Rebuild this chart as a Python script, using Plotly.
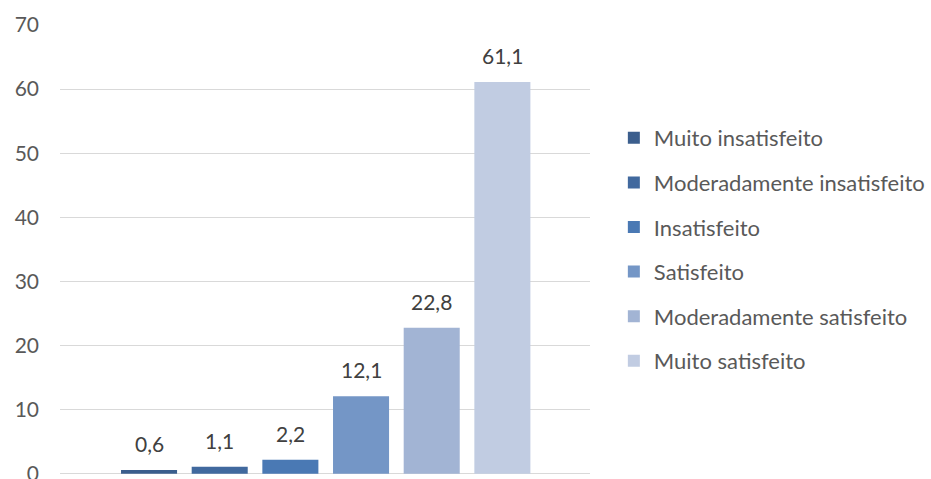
import plotly.graph_objects as go

categories = ["Muito insatisfeito", "Moderadamente insatisfeito", "Insatisfeito",
              "Satisfeito", "Moderadamente satisfeito", "Muito satisfeito"]
values = [0.6, 1.1, 2.2, 12.1, 22.8, 61.1]
colors = ["#3B5E8D", "#41699E", "#4A79B4", "#7496C6", "#A2B4D4", "#C1CCE2"]
y_ticks = [0, 10, 20, 30, 40, 50, 60, 70]

FONT = "Lato"
fig = go.Figure()
for i, (name, v, c) in enumerate(zip(categories, values, colors)):
    fig.add_trace(go.Bar(x=[i], y=[v], name=name, marker=dict(color=c, line=dict(width=0)),
                         width=0.793, legendgroup=name, hoverinfo="skip"))
    fig.add_annotation(x=i, y=v, text=f"{v:.1f}".replace(".", ","), showarrow=False,
                       yanchor="bottom", yshift=12,
                       font=dict(family=FONT, size=21, color="#404040"))

fig.update_layout(
    width=931, height=479,
    margin=dict(l=60, r=341, t=25, b=5, autoexpand=False),
    paper_bgcolor="white", plot_bgcolor="white",
    barmode="overlay",
    font=dict(family=FONT, size=21, color="#595959"),
    xaxis=dict(range=[-1.26, 6.24], visible=False, showgrid=False, zeroline=False,
               automargin=False),
    yaxis=dict(range=[-0.02, 70], tickvals=y_ticks, showgrid=True, gridcolor="#D9D9D9",
               gridwidth=1.3, zeroline=True, zerolinecolor="#D9D9D9", zerolinewidth=1.3,
               showline=False, automargin=False, ticklabeloverflow="allow",
               ticklabelstandoff=20, tickfont=dict(family=FONT, size=21, color="#595959")),
    legend=dict(x=1.045, xanchor="left", y=0.5, yanchor="middle", xref="paper",
                traceorder="grouped", tracegroupgap=13,
                font=dict(family=FONT, size=22, color="#595959"),
                itemwidth=30),
    showlegend=True,
)
fig.write_html("out.html")
